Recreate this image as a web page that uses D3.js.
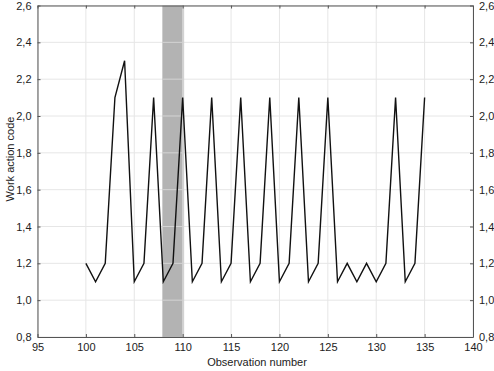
<!DOCTYPE html>
<html>
<head>
<meta charset="utf-8">
<script src="https://cdn.jsdelivr.net/npm/d3@7"></script>
<style>
  body { margin: 0; background: #fff; }
  text { font-family: "Liberation Sans", Arial, sans-serif; }
</style>
</head>
<body>
<svg id="chart"></svg>
<script>
// observation numbers and work action codes
const observations = d3.range(100, 136);
const codes = [1.2, 1.1, 1.2, 2.1, 2.3, 1.1, 1.2, 2.1, 1.1, 1.2, 2.1, 1.1, 1.2, 2.1, 1.1, 1.2,
  2.1, 1.1, 1.2, 2.1, 1.1, 1.2, 2.1, 1.1, 1.2, 2.1, 1.1, 1.2, 1.1, 1.2, 1.1, 1.2, 2.1, 1.1, 1.2, 2.1];
const xTicks = [95, 100, 105, 110, 115, 120, 125, 130, 135, 140];
const yTicks = [0.8, 1.0, 1.2, 1.4, 1.6, 1.8, 2.0, 2.2, 2.4, 2.6];
const band = [107.9, 110];

const width = 494, height = 371;
const margin = { top: 5.5, right: 21, bottom: 34, left: 37.5 };

const svg = d3.select("#chart").attr("width", width).attr("height", height);

const x = d3.scaleLinear().domain([95, 140]).range([margin.left, width - margin.right]);
const y = d3.scaleLinear().domain([0.8, 2.6]).range([height - margin.bottom, margin.top]);
const fmt = d => d3.format(".1f")(d).replace(".", ",");

// grid
const grid = svg.append("g").attr("stroke", "#e6e6e6").attr("stroke-width", 1);
grid.selectAll(".gx").data(xTicks).join("line")
  .attr("x1", d => x(d)).attr("x2", d => x(d))
  .attr("y1", y(0.8)).attr("y2", y(2.6));
grid.selectAll(".gy").data(yTicks).join("line")
  .attr("x1", x(95)).attr("x2", x(140))
  .attr("y1", d => y(d)).attr("y2", d => y(d));

// shaded band
svg.append("rect")
  .attr("x", x(band[0])).attr("y", y(2.6))
  .attr("width", x(band[1]) - x(band[0])).attr("height", y(0.8) - y(2.6))
  .attr("fill", "#b3b3b3");
svg.append("line")
  .attr("x1", x(band[1]) + 0.5).attr("x2", x(band[1]) + 0.5)
  .attr("y1", y(2.6)).attr("y2", y(0.8))
  .attr("stroke", "#d2d2d2").attr("stroke-width", 2);
svg.append("g").attr("stroke", "#d4d4d4")
  .selectAll("line").data(yTicks.slice(1, -1)).join("line")
  .attr("x1", x(band[0])).attr("x2", x(band[1]))
  .attr("y1", d => y(d)).attr("y2", d => y(d));

// series
const line = d3.line().x((d, i) => x(observations[i])).y(d => y(d));
svg.append("path").datum(codes)
  .attr("d", line)
  .attr("fill", "none").attr("stroke", "#111").attr("stroke-width", 1.4)
  .attr("stroke-linejoin", "miter");

// axes
const axisStyle = g => {
  g.select(".domain").attr("stroke", "#555");
  g.selectAll(".tick line").attr("stroke", "#555");
  g.selectAll("text").attr("fill", "#222").style("font-size", "11px")
    .style("font-family", "Liberation Sans, Arial, sans-serif");
};

svg.append("g").attr("transform", `translate(0,${y(0.8)})`)
  .call(d3.axisBottom(x).tickValues(xTicks).tickSizeInner(-3).tickSizeOuter(0).tickPadding(6))
  .call(axisStyle);
svg.append("g").attr("transform", `translate(0,${y(2.6)})`)
  .call(d3.axisTop(x).tickValues(xTicks).tickSizeInner(-3).tickSizeOuter(0).tickFormat(""))
  .call(axisStyle);
svg.append("g").attr("transform", `translate(${x(95)},0)`)
  .call(d3.axisLeft(y).tickValues(yTicks).tickFormat(fmt).tickSizeInner(-3).tickSizeOuter(0).tickPadding(6))
  .call(axisStyle);
svg.append("g").attr("transform", `translate(${x(140)},0)`)
  .call(d3.axisRight(y).tickValues(yTicks).tickFormat(fmt).tickSizeInner(-3).tickSizeOuter(0).tickPadding(6))
  .call(axisStyle);

// labels
svg.append("text")
  .attr("x", 257).attr("y", 366)
  .attr("text-anchor", "middle").style("font-size", "11px").attr("fill", "#222")
  .text("Observation number");
svg.append("text")
  .attr("transform", "translate(14,159) rotate(-90)")
  .attr("text-anchor", "middle").style("font-size", "11px").attr("fill", "#222")
  .text("Work action code");
</script>
</body>
</html>
